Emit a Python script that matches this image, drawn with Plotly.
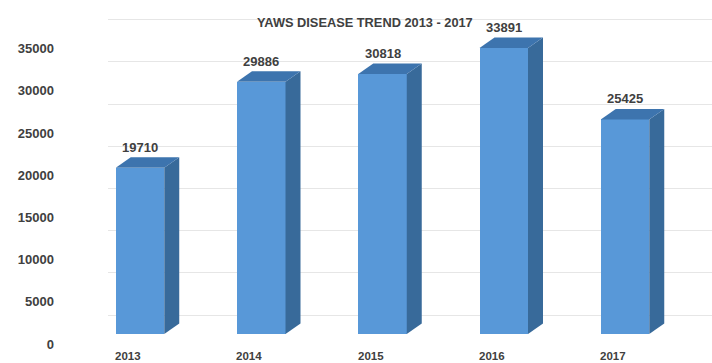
import plotly.graph_objects as go

# ---- data ----
years = ["2013", "2014", "2015", "2016", "2017"]
cases = [19710, 29886, 30818, 33891, 25425]
tick_vals = [0, 5000, 10000, 15000, 20000, 25000, 30000, 35000]
title_text = "YAWS DISEASE TREND 2013 - 2017"

# ---- styling / geometry ----
W, H = 712, 363
FRONT = "#5898d8"
SIDE = "#386a9a"
TOP = "#3d74ae"
TXT = "#404040"
FONT = "Liberation Sans"

px_per_unit = 121.25          # px per category step
px_per_val = 0.008439         # px per case
bar_w = 0.40
depth_dx = 15.0 / px_per_unit
depth_dy = 10.5 / px_per_val

left_px = 108
xr0 = -(140 - left_px) / px_per_unit
xr1 = xr0 + (W - left_px) / px_per_unit
# y range: value 0 at pixel 334 (from top), full height plot area
yr0 = -(H - 334) / px_per_val
yr1 = 334 / px_per_val
grid_shift = -19 / px_per_val   # back-wall gridlines drawn 19px higher
label_shift = 10 / px_per_val   # tick labels drawn 10px lower

xs = list(range(len(years)))

fig = go.Figure()

# side faces
for i, v in zip(xs, cases):
    x0 = i + bar_w / 2
    fig.add_trace(go.Scatter(
        x=[x0, x0 + depth_dx, x0 + depth_dx, x0, x0],
        y=[0, depth_dy, v + depth_dy, v, 0],
        fill="toself", fillcolor=SIDE, mode="lines",
        line=dict(width=0, color=SIDE), hoverinfo="skip", showlegend=False))
    # top faces
    xl = i - bar_w / 2
    fig.add_trace(go.Scatter(
        x=[xl, x0, x0 + depth_dx, xl + depth_dx, xl],
        y=[v, v, v + depth_dy, v + depth_dy, v],
        fill="toself", fillcolor=TOP, mode="lines",
        line=dict(width=0, color=TOP), hoverinfo="skip", showlegend=False))

# front faces
fig.add_trace(go.Bar(
    x=xs, y=cases, width=bar_w, marker=dict(color=FRONT, line=dict(width=0)),
    showlegend=False, hoverinfo="x+y"))

# dummy traces for overlay axes
fig.add_trace(go.Scatter(x=[xs[0]], y=[0], yaxis="y2", mode="lines",
                         line=dict(width=0), hoverinfo="skip", showlegend=False))
fig.add_trace(go.Scatter(x=[xs[0]], y=[0], yaxis="y3", mode="lines",
                         line=dict(width=0), hoverinfo="skip", showlegend=False))

# value labels
for i, v in zip(xs, cases):
    fig.add_annotation(x=i, y=v + depth_dy, text=f"<b>{v}</b>", showarrow=False,
                       yanchor="middle", yshift=10,
                       font=dict(family=FONT, size=13, color=TXT))

# category labels
for i, yr in zip(xs, years):
    fig.add_annotation(x=i, y=0, text=f"<b>{yr}</b>", showarrow=False,
                       yanchor="middle", yshift=-22, xshift=-12,
                       font=dict(family=FONT, size=11.5, color=TXT))

# title
fig.add_annotation(xref="paper", yref="paper", x=365 / W, y=1 - 23 / H,
                   text=f"<b>{title_text}</b>", showarrow=False,
                   xanchor="center", yanchor="middle",
                   font=dict(family=FONT, size=12.8, color=TXT))

fig.update_layout(
    width=W, height=H,
    margin=dict(l=0, r=0, t=0, b=0),
    paper_bgcolor="white", plot_bgcolor="rgba(0,0,0,0)",
    font=dict(family=FONT, color=TXT),
    xaxis=dict(domain=[left_px / W, 1], range=[xr0, xr1], visible=False, fixedrange=True),
    yaxis=dict(range=[yr0, yr1], visible=False, showgrid=False, zeroline=False),
    yaxis2=dict(overlaying="y", range=[yr0 + grid_shift, yr1 + grid_shift],
                tickvals=tick_vals, showgrid=True, gridcolor="#e6e6e6", gridwidth=1,
                showticklabels=False, zeroline=False, showline=False, ticks=""),
    yaxis3=dict(overlaying="y", anchor="free", position=54 / W,
                range=[yr0 + label_shift, yr1 + label_shift],
                tickvals=tick_vals, ticktext=[f"<b>{t}</b>" for t in tick_vals],
                showgrid=False, zeroline=False, showline=False, ticks="",
                tickfont=dict(family=FONT, size=13, color=TXT)),
    bargap=0,
)

fig.write_html("out.html")
